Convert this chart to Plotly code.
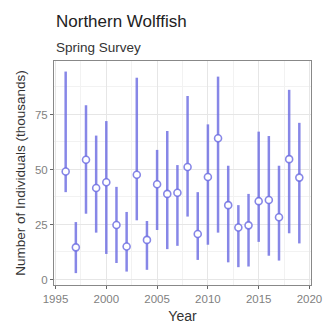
import plotly.graph_objects as go

years = list(range(1996, 2020))
estimate = [49.1, 14.6, 54.4, 41.6, 44.2, 24.8, 15.0, 47.6, 18.0, 43.3, 38.9, 39.4,
            51.1, 20.7, 46.6, 64.2, 33.8, 23.6, 24.6, 35.6, 36.1, 28.3, 54.7, 46.3]
upper = [94.5, 26.1, 79.2, 65.4, 72.0, 42.1, 30.7, 91.7, 26.6, 58.9, 67.5, 52.0,
         83.4, 39.7, 70.5, 92.2, 51.7, 33.8, 38.9, 67.2, 65.2, 51.7, 86.2, 71.2]
lower = [39.7, 2.9, 29.9, 21.3, 11.6, 7.5, 3.6, 26.9, 4.4, 22.5, 13.8, 15.3,
         28.6, 8.9, 15.8, 21.3, 7.8, 5.6, 5.9, 17.1, 10.8, 8.6, 21.0, 16.4]
y_ticks = [0, 25, 50, 75]
x_ticks = [1995, 2000, 2005, 2010, 2015, 2020]

col = "rgba(105,105,225,0.8)"
font = "Liberation Sans, Arial, sans-serif"

fig = go.Figure()
fig.add_trace(go.Scatter(
    x=years, y=estimate, mode="markers",
    marker=dict(size=7, color="white", line=dict(color=col, width=1.6)),
    error_y=dict(type="data", symmetric=False,
                 array=[u - e for u, e in zip(upper, estimate)],
                 arrayminus=[e - l for e, l in zip(estimate, lower)],
                 width=0, thickness=2.5, color=col),
    showlegend=False,
))

fig.update_layout(
    width=325, height=329,
    margin=dict(l=54, r=14, t=61, b=44),
    paper_bgcolor="white", plot_bgcolor="white",
    font=dict(family=font, color="#333333"),
    xaxis=dict(range=[1994.85, 2020.15], tickvals=x_ticks, showgrid=True,
               automargin=False, ticklabeloverflow="allow",
               gridcolor="#e6e6e6", gridwidth=1, zeroline=False,
               ticks="outside", ticklen=3, tickcolor="#666666",
               tickfont=dict(size=11.5, color="#7f7f7f"),
               minor=dict(tickvals=[1997.5, 2002.5, 2007.5, 2012.5, 2017.5],
                          showgrid=True, gridcolor="#f2f2f2", ticks=""),
               showline=True, linecolor="#888888", linewidth=1, mirror=True,
               title=dict(text="Year", font=dict(size=14, color="#333333"), standoff=7)),
    yaxis=dict(range=[-2.5, 99.3], tickvals=y_ticks, showgrid=True,
               automargin=False,
               gridcolor="#e6e6e6", gridwidth=1, zeroline=False,
               ticks="outside", ticklen=3, tickcolor="#666666",
               tickfont=dict(size=11.5, color="#7f7f7f"),
               minor=dict(tickvals=[12.5, 37.5, 62.5, 87.5],
                          showgrid=True, gridcolor="#f2f2f2", ticks=""),
               showline=True, linecolor="#888888", linewidth=1, mirror=True,
               title=dict(text="Number of Individuals (thousands)",
                          font=dict(size=13.5, color="#333333"), standoff=6)),
    annotations=[
        dict(text="Northern Wolffish", x=0, y=1, xref="paper", yref="paper",
             xanchor="left", yanchor="bottom", yshift=28, showarrow=False,
             font=dict(size=17, color="#222222", family=font)),
        dict(text="Spring Survey", x=0, y=1, xref="paper", yref="paper",
             xanchor="left", yanchor="bottom", yshift=4, showarrow=False,
             font=dict(size=13.5, color="#333333", family=font)),
    ],
)

fig.write_html("out.html",
               config={"displayModeBar": False, "staticPlot": True},
               post_script="document.body.style.margin='0';document.body.style.overflow='hidden';")
